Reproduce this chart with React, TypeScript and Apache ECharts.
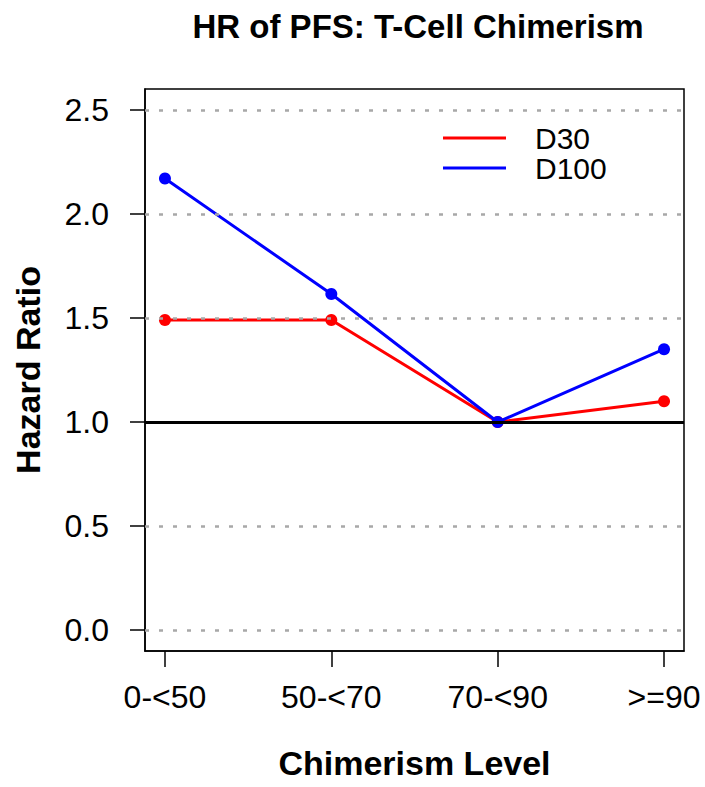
import React, { useEffect, useRef } from "react";
import * as echarts from "echarts";

const categories = ["0-<50", "50-<70", "70-<90", ">=90"];
const positions = [1, 2, 3, 4];
const d30 = [1.49, 1.49, 1.0, 1.1];
const d100 = [2.17, 1.615, 1.0, 1.35];
const yTicks = [0, 0.5, 1.0, 1.5, 2.0, 2.5];
const refLine = 1.0;

export default function App() {
  const ref = useRef<HTMLDivElement>(null);
  useEffect(() => {
    if (!ref.current) return;
    const chart = echarts.init(ref.current, undefined, { renderer: "svg" });
    const font = "Liberation Sans, Arial, sans-serif";
    chart.setOption({
      animation: false,
      backgroundColor: "#ffffff",
      title: {
        text: "HR of PFS: T-Cell Chimerism",
        left: 413,
        textAlign: "center",
        top: 5,
        textStyle: { fontFamily: font, fontWeight: "bold", fontSize: 33, color: "#000" },
      },
      legend: {
        data: ["D30", "D100"],
        orient: "vertical",
        left: 438,
        top: 118,
        icon: "rect",
        itemWidth: 63,
        itemHeight: 3,
        itemGap: 0,
        textStyle: {
          fontFamily: font,
          fontSize: 30,
          color: "#000",
          lineHeight: 30,
          padding: [0, 0, 0, 24],
        },
      },
      grid: {
        left: 145,
        right: 21,
        top: 89,
        bottom: 136,
        show: true,
        borderColor: "#000",
        borderWidth: 1.5,
        backgroundColor: "transparent",
      },
      xAxis: {
        type: "value",
        min: 0.88,
        max: 4.12,
        name: "Chimerism Level",
        nameLocation: "middle",
        nameGap: 95,
        nameTextStyle: { fontFamily: font, fontWeight: "bold", fontSize: 34, color: "#000" },
        axisLine: { show: true, onZero: false, lineStyle: { color: "#000", width: 1.5 } },
        axisTick: {
          show: true,
          inside: false,
          length: 16,
          customValues: positions,
          lineStyle: { color: "#000", width: 1.5 },
        },
        axisLabel: {
          customValues: positions,
          margin: 30,
          fontFamily: font,
          fontSize: 32,
          color: "#000",
          formatter: (v: number) => categories[Math.round(v) - 1] ?? "",
        },
        splitLine: { show: false },
      },
      yAxis: {
        type: "value",
        min: -0.1,
        max: 2.6,
        name: "Hazard Ratio",
        nameLocation: "middle",
        nameGap: 100,
        nameTextStyle: { fontFamily: font, fontWeight: "bold", fontSize: 34, color: "#000" },
        axisLine: { show: true, onZero: false, lineStyle: { color: "#000", width: 1.5 } },
        axisTick: {
          show: true,
          inside: false,
          length: 15,
          customValues: yTicks,
          lineStyle: { color: "#000", width: 1.5 },
        },
        axisLabel: {
          customValues: yTicks,
          margin: 36,
          fontFamily: font,
          fontSize: 32,
          color: "#000",
          formatter: (v: number) => v.toFixed(1),
        },
        splitLine: { show: false },
      },
      series: [
        {
          name: "gridlines",
          type: "line",
          data: [],
          z: 1,
          silent: true,
          markLine: {
            silent: true,
            symbol: "none",
            label: { show: false },
            lineStyle: { color: "#a8a8a8", width: 2.5, type: [4, 10] },
            data: yTicks.map((v) => ({ yAxis: v })),
          },
        },
        {
          name: "ref",
          type: "line",
          data: [],
          z: 2,
          silent: true,
          markLine: {
            silent: true,
            symbol: "none",
            label: { show: false },
            lineStyle: { color: "#000", width: 3, type: "solid" },
            data: [{ yAxis: refLine }],
          },
        },
        {
          name: "D30",
          type: "line",
          z: 3,
          data: positions.map((p, i) => [p, d30[i]]),
          symbol: "circle",
          symbolSize: 12,
          itemStyle: { color: "#ff0000" },
          lineStyle: { color: "#ff0000", width: 3 },
        },
        {
          name: "D100",
          type: "line",
          z: 4,
          data: positions.map((p, i) => [p, d100[i]]),
          symbol: "circle",
          symbolSize: 12,
          itemStyle: { color: "#0000ff" },
          lineStyle: { color: "#0000ff", width: 3 },
        },
      ],
    });
    return () => chart.dispose();
  }, []);
  return <div ref={ref} style={{ width: 705, height: 787, position: "absolute", left: 0, top: 0 }} />;
}
